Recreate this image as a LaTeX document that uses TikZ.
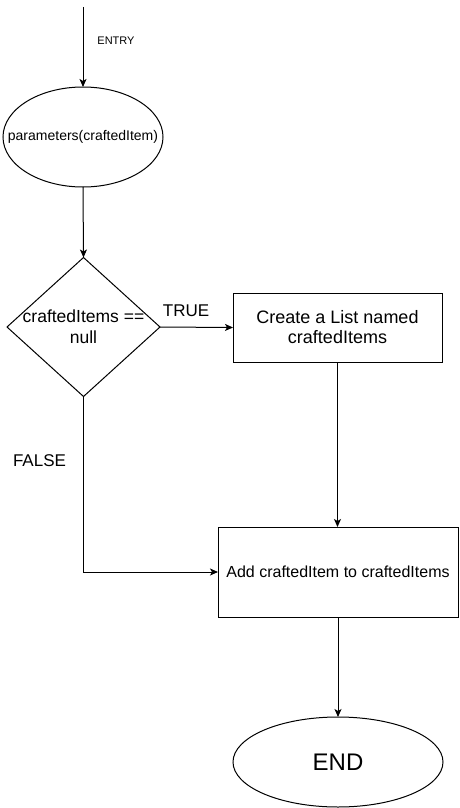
\documentclass[tikz,border=0pt]{standalone}
\usepackage{fontspec}
\setmainfont{Liberation Sans}
\usetikzlibrary{shapes.geometric,arrows.meta}
\begin{document}
\begin{tikzpicture}[x=1pt,y=-1pt,
  every node/.style={inner sep=0pt, outer sep=0pt},
  shp/.style={draw, line width=1pt, fill=white},
  conn/.style={draw, line width=1pt, -{Stealth[length=8pt,width=7pt,inset=2pt]}},
  lbl/.style={font=\fontsize{17}{20}\selectfont},
  boxtxt/.style={font=\fontsize{18}{20}\selectfont, align=center}
]
\useasboundingbox (0,0) rectangle (459,808);
\fill[white] (0,0) rectangle (459,808);

\coordinate (entrytop) at (83,7);
\node[shp, ellipse, minimum width=160pt, minimum height=100pt,
  label={[font=\fontsize{14}{16}\selectfont]center:parameters(craftedItem)}] (par) at (83,137) {};
\node[shp, diamond, minimum width=153pt, minimum height=139pt,
  label={[boxtxt, font=\fontsize{17.5}{21}\selectfont]center:craftedItems ==\\null}] (dec) at (83.5,327) {};
\node[shp, rectangle, minimum width=209pt, minimum height=69pt, boxtxt] (mk) at (337.5,327.5) {Create a List named\\craftedItems};
\node[shp, rectangle, minimum width=240pt, minimum height=90pt, font=\fontsize{16}{19}\selectfont] (add) at (338,572) {Add craftedItem to craftedItems};
\node[shp, ellipse, minimum width=210pt, minimum height=90pt, font=\fontsize{24}{28}\selectfont] (end) at (338,762) {END};

\node[font=\fontsize{11}{13}\selectfont] (entrylbl) at (116,41) {ENTRY};
\node[lbl] (truelbl) at (186,311) {TRUE};
\node[lbl] (falselbl) at (39.5,461) {FALSE};

\draw[conn] (entrytop) -- (par.north);
\draw[conn] (par.south) -- (dec.north);
\draw[conn] (dec.east) -- (mk.west);
\draw[conn] (dec.south) |- (add.west);
\draw[conn] (mk.south) -- (add.north -| mk.south);
\draw[conn] (add.south) -- (end.north);
\end{tikzpicture}
\end{document}
